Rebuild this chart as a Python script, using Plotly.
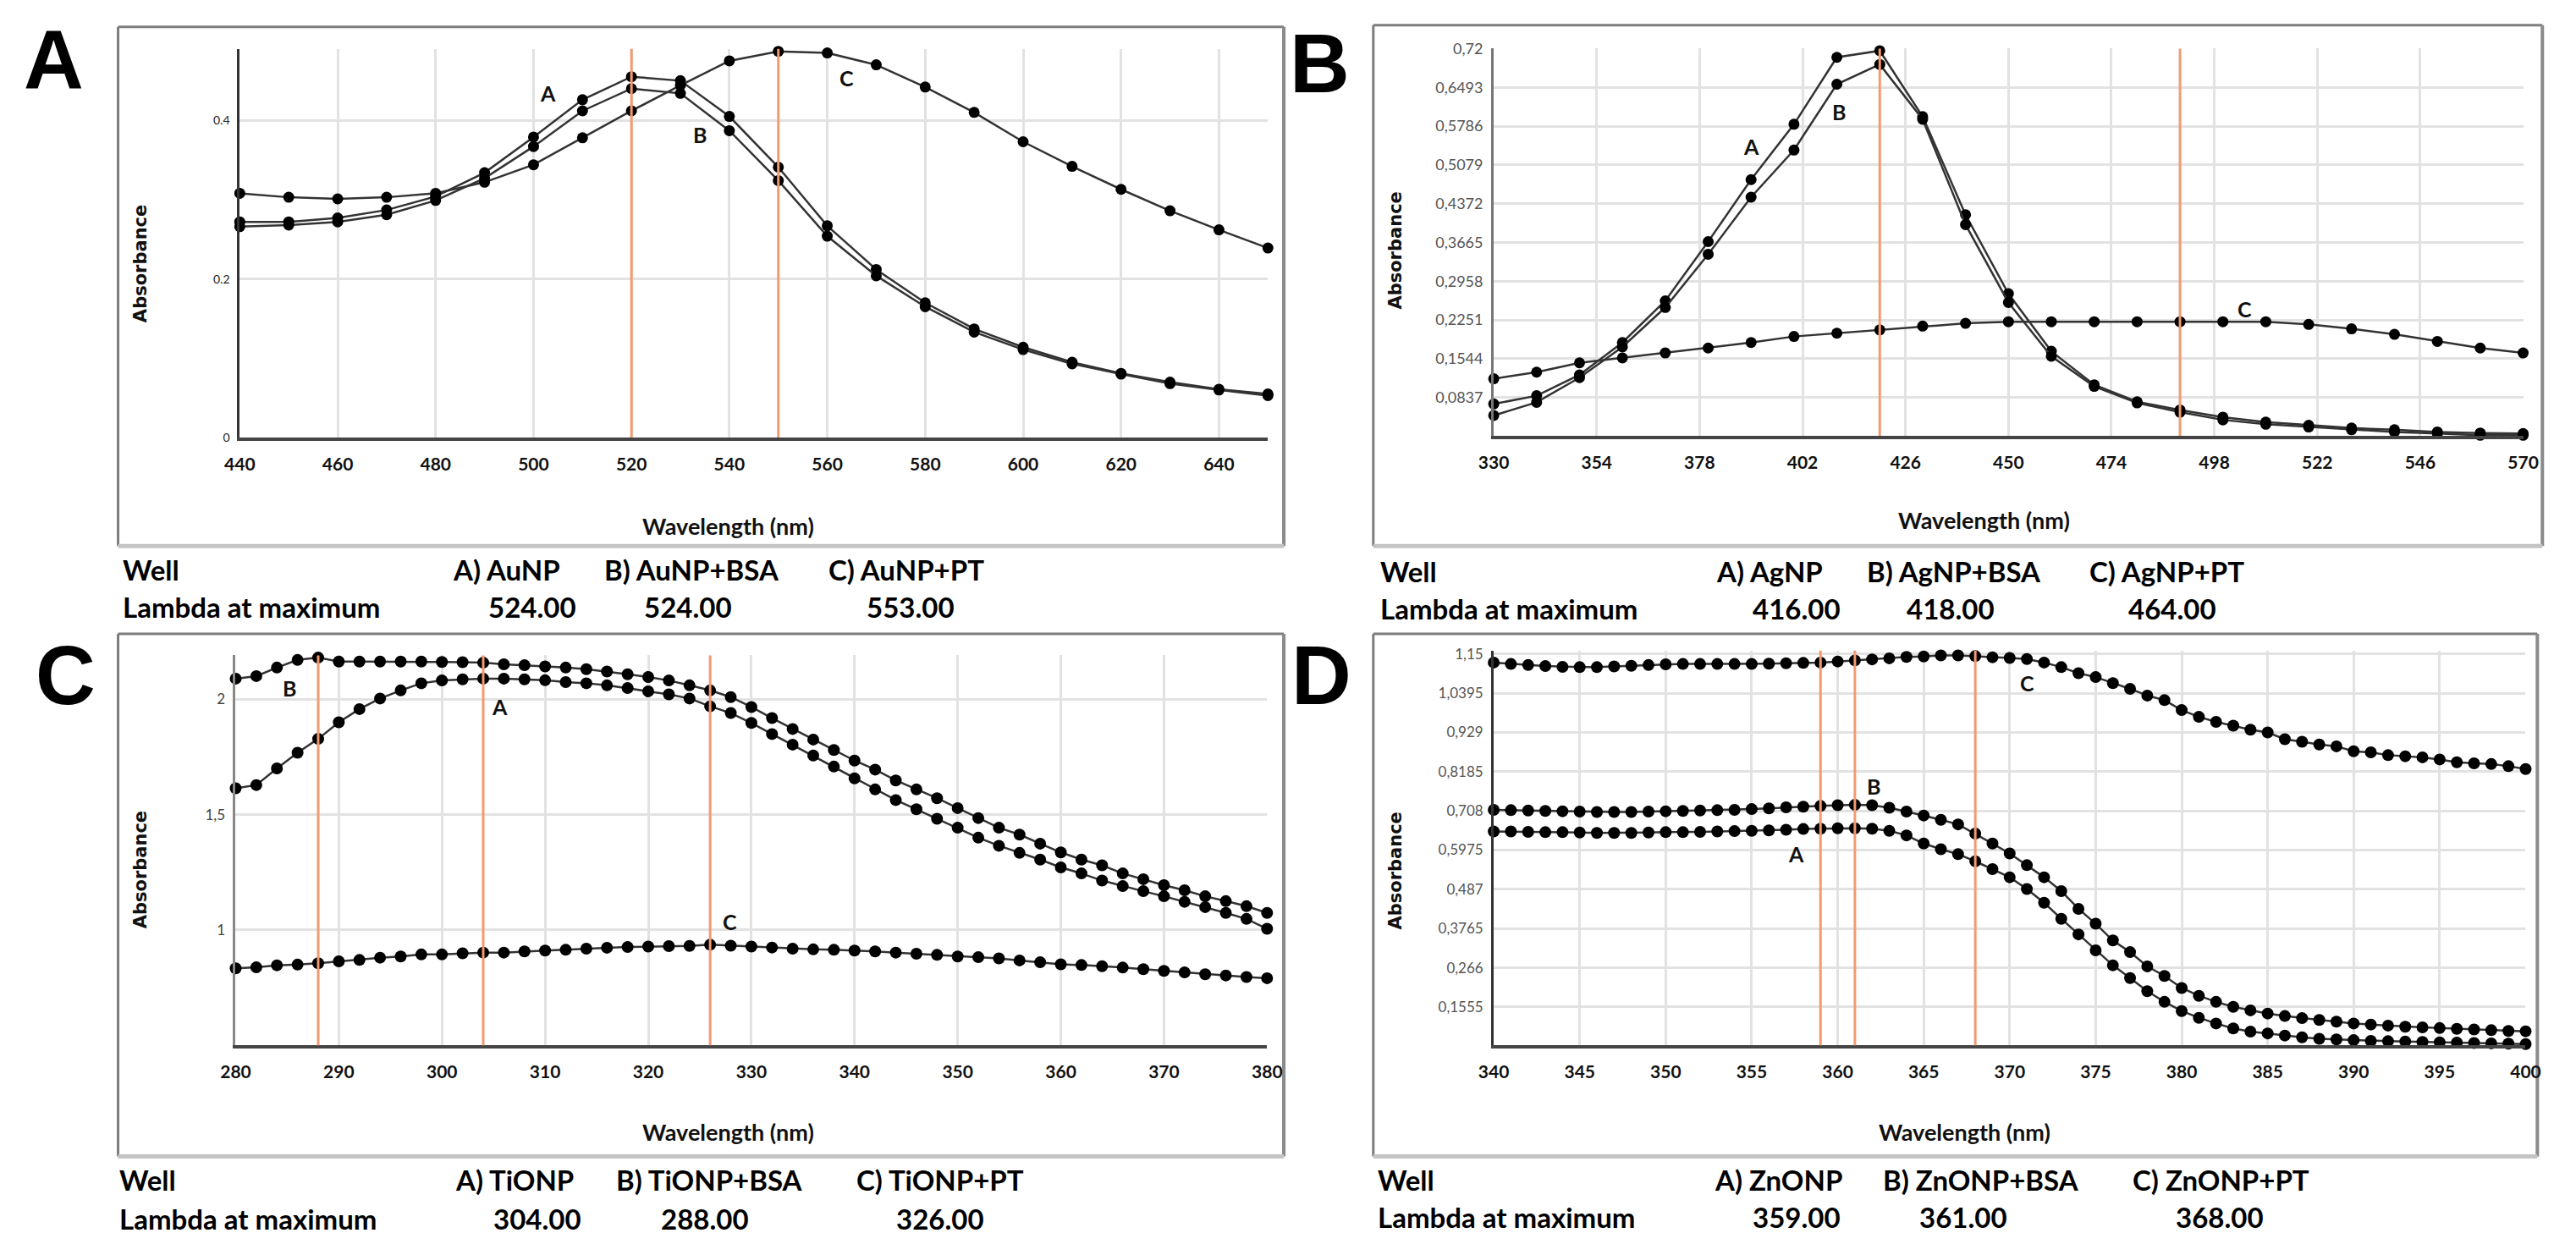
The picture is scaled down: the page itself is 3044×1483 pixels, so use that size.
import plotly.graph_objects as go

W, H = 3044, 1483

# ---------------- data ----------------
wl_a = list(range(440, 651, 10))
a_aunp = [0.272, 0.272, 0.277, 0.287, 0.304, 0.334, 0.379, 0.426, 0.455, 0.450, 0.405,
          0.341, 0.267, 0.212, 0.170, 0.137, 0.114, 0.095, 0.081, 0.070, 0.061, 0.055]
a_aunp_bsa = [0.266, 0.268, 0.272, 0.281, 0.299, 0.327, 0.367, 0.412, 0.440, 0.434, 0.387,
              0.324, 0.254, 0.204, 0.165, 0.133, 0.111, 0.093, 0.080, 0.068, 0.060, 0.053]
a_aunp_pt = [0.308, 0.303, 0.301, 0.303, 0.308, 0.322, 0.344, 0.378, 0.412, 0.444, 0.475,
             0.487, 0.485, 0.470, 0.442, 0.410, 0.373, 0.342, 0.313, 0.286, 0.262, 0.239]

wl_b = list(range(330, 571, 10))
b_agnp = [0.072, 0.087, 0.125, 0.184, 0.260, 0.368, 0.481, 0.582, 0.704, 0.716, 0.596, 0.417,
          0.273, 0.168, 0.107, 0.076, 0.061, 0.048, 0.039, 0.033, 0.028, 0.025, 0.021, 0.019, 0.018]
b_agnp_bsa = [0.051, 0.075, 0.120, 0.176, 0.248, 0.345, 0.449, 0.535, 0.655, 0.691, 0.591, 0.399,
              0.257, 0.159, 0.104, 0.074, 0.057, 0.043, 0.035, 0.030, 0.025, 0.021, 0.018, 0.015, 0.015]
b_agnp_pt = [0.118, 0.130, 0.147, 0.156, 0.165, 0.174, 0.184, 0.195, 0.201, 0.207, 0.214, 0.219,
             0.222, 0.222, 0.222, 0.222, 0.222, 0.222, 0.222, 0.217, 0.209, 0.199, 0.186, 0.174, 0.165]

wl_c = list(range(280, 381, 2))
c_tionp = [1.614, 1.628, 1.700, 1.768, 1.828, 1.900, 1.957, 2.003, 2.038, 2.069, 2.081,
           2.086, 2.089, 2.089, 2.086, 2.082, 2.074, 2.069, 2.060, 2.048, 2.034,
           2.021, 2.003, 1.969, 1.940, 1.897, 1.849, 1.803, 1.756, 1.708, 1.657,
           1.609, 1.563, 1.523, 1.482, 1.443, 1.400, 1.365, 1.334, 1.305, 1.271,
           1.245, 1.214, 1.190, 1.168, 1.146, 1.122, 1.099, 1.074, 1.048, 1.005]
c_tionp_bsa = [2.089, 2.100, 2.137, 2.170, 2.180, 2.163, 2.163, 2.163, 2.163, 2.163, 2.161,
               2.160, 2.158, 2.151, 2.147, 2.142, 2.137, 2.130, 2.120, 2.108, 2.096,
               2.081, 2.060, 2.038, 2.009, 1.966, 1.918, 1.871, 1.825, 1.780, 1.734,
               1.695, 1.648, 1.609, 1.571, 1.528, 1.485, 1.443, 1.413, 1.374, 1.336,
               1.305, 1.280, 1.245, 1.220, 1.194, 1.172, 1.146, 1.125, 1.103, 1.074]
c_tionp_pt = [0.834, 0.838, 0.847, 0.850, 0.856, 0.864, 0.870, 0.880, 0.885, 0.894, 0.894,
              0.899, 0.902, 0.902, 0.907, 0.911, 0.914, 0.919, 0.923, 0.926, 0.928,
              0.930, 0.931, 0.936, 0.932, 0.928, 0.924, 0.919, 0.916, 0.914, 0.911,
              0.907, 0.902, 0.897, 0.892, 0.885, 0.882, 0.877, 0.868, 0.860, 0.851,
              0.848, 0.843, 0.837, 0.830, 0.823, 0.816, 0.808, 0.803, 0.796, 0.791]

wl_d = list(range(340, 401, 1))
d_znonp = [0.650, 0.650, 0.649, 0.648, 0.648, 0.647, 0.646, 0.646, 0.646, 0.647,
           0.648, 0.648, 0.649, 0.650, 0.651, 0.652, 0.653, 0.655, 0.657, 0.658,
           0.659, 0.659, 0.658, 0.652, 0.639, 0.616, 0.600, 0.586, 0.566, 0.544,
           0.521, 0.488, 0.449, 0.404, 0.360, 0.315, 0.273, 0.237, 0.200, 0.170,
           0.144, 0.125, 0.109, 0.095, 0.086, 0.081, 0.075, 0.070, 0.066, 0.064,
           0.062, 0.060, 0.059, 0.058, 0.057, 0.056, 0.055, 0.054, 0.053, 0.052, 0.051]
d_znonp_bsa = [0.711, 0.710, 0.709, 0.708, 0.707, 0.706, 0.705, 0.705, 0.705, 0.706,
               0.707, 0.708, 0.709, 0.710, 0.711, 0.713, 0.715, 0.718, 0.720, 0.722,
               0.724, 0.725, 0.724, 0.717, 0.706, 0.695, 0.683, 0.670, 0.644, 0.616,
               0.588, 0.555, 0.521, 0.482, 0.432, 0.390, 0.343, 0.310, 0.270, 0.243,
               0.209, 0.187, 0.170, 0.156, 0.146, 0.137, 0.130, 0.124, 0.119, 0.114,
               0.109, 0.106, 0.103, 0.100, 0.098, 0.096, 0.094, 0.092, 0.090, 0.088, 0.087]
d_znonp_pt = [1.126, 1.122, 1.119, 1.116, 1.114, 1.113, 1.113, 1.115, 1.117, 1.119,
              1.121, 1.122, 1.122, 1.122, 1.122, 1.122, 1.123, 1.124, 1.125, 1.126,
              1.129, 1.132, 1.135, 1.138, 1.142, 1.143, 1.146, 1.146, 1.144, 1.141,
              1.139, 1.136, 1.126, 1.113, 1.096, 1.085, 1.068, 1.052, 1.033, 1.020,
              0.992, 0.973, 0.959, 0.948, 0.937, 0.929, 0.910, 0.903, 0.895, 0.890,
              0.876, 0.873, 0.865, 0.862, 0.859, 0.853, 0.845, 0.842, 0.840, 0.834, 0.826]

# marker (orange) lines
vlines_a = [520, 550]
vlines_b = [420, 490]
vlines_c = [288, 304, 326]
vlines_d = [359, 361, 368]

# tick labels
yt_a_vals = [0, 0.2, 0.4]
yt_a_text = ["0", "0.2", "0.4"]
yt_b_vals = [0.72, 0.6493, 0.5786, 0.5079, 0.4372, 0.3665, 0.2958, 0.2251, 0.1544, 0.0837]
yt_b_text = ["0,72", "0,6493", "0,5786", "0,5079", "0,4372", "0,3665", "0,2958", "0,2251", "0,1544", "0,0837"]
yt_c_vals = [1, 1.5, 2]
yt_c_text = ["1", "1,5", "2"]
yt_d_vals = [1.15, 1.0395, 0.929, 0.8185, 0.708, 0.5975, 0.487, 0.3765, 0.266, 0.1555]
yt_d_text = ["1,15", "1,0395", "0,929", "0,8185", "0,708", "0,5975", "0,487", "0,3765", "0,266", "0,1555"]

# curve labels (letter, x, y)
lab_a = [("A", 503, 0.434), ("B", 534, 0.382), ("C", 564, 0.454)]
lab_b = [("A", 390, 0.542), ("B", 410.5, 0.605), ("C", 505, 0.246)]
lab_c = [("B", 285.2, 2.048), ("A", 305.6, 1.969), ("C", 327.9, 1.036)]
lab_d = [("C", 371, 1.068), ("B", 362.1, 0.778), ("A", 357.6, 0.586)]

# tables
wells_a = ["A) AuNP", "B) AuNP+BSA", "C) AuNP+PT"]
lambda_a = ["524.00", "524.00", "553.00"]
wells_b = ["A) AgNP", "B) AgNP+BSA", "C) AgNP+PT"]
lambda_b = ["416.00", "418.00", "464.00"]
wells_c = ["A) TiONP", "B) TiONP+BSA", "C) TiONP+PT"]
lambda_c = ["304.00", "288.00", "326.00"]
wells_d = ["A) ZnONP", "B) ZnONP+BSA", "C) ZnONP+PT"]
lambda_d = ["359.00", "361.00", "368.00"]

# ---------------- layout helpers ----------------
def fx(p):
    return p / W

def fy(p):
    return 1 - p / H

ORANGE = "#F49A70"
GRID = "#e2e2e2"
LINE = "#333333"
TICKFONT = "Lato"
TEXTFONT = "Lato"

panels = [
    dict(name="A", ax="", wl=wl_a, series=[a_aunp, a_aunp_bsa, a_aunp_pt], vl=vlines_a, msize=13,
         xr=[440, 650], xpx=[268.5, 1498], yr=[0, 0.49], ypx=[46.5, 512],
         xt=list(range(440, 641, 20)), yv=yt_a_vals, yt=yt_a_text, ytsize=14, ycol="#222", ylinecol="#333",
         labs=lab_a, box=[123, 20, 1517, 642], letter=(46, 1),
         ytitle=(150, 304), xtitle=(853, 618), rows=(670, 715), left=126,
         wells=wells_a, lams=lambda_a, wc=[587, 809, 1066], lc=[618, 805, 1071]),
    dict(name="B", ax="2", wl=wl_b, series=[b_agnp, b_agnp_bsa, b_agnp_pt], vl=vlines_b, msize=13,
         xr=[330, 570], xpx=[1768, 2999], yr=[0.0137, 0.72], ypx=[46, 510],
         xt=list(range(330, 571, 24)), yv=yt_b_vals, yt=yt_b_text, ytsize=18, ycol="#555", ylinecol="#777",
         labs=lab_b, box=[1624, 18, 3022, 642], letter=(1560, 6),
         ytitle=(1651, 288), xtitle=(2354, 611), rows=(672, 717), left=1630,
         wells=wells_b, lams=lambda_b, wc=[2098, 2318, 2573], lc=[2130, 2314, 2580]),
    dict(name="C", ax="3", wl=wl_c, series=[c_tionp, c_tionp_bsa, c_tionp_pt], vl=vlines_c, msize=14,
         xr=[280, 380], xpx=[263.6, 1497], yr=[0.5, 2.19], ypx=[772.8, 1240],
         xt=list(range(280, 381, 10)), yv=yt_c_vals, yt=yt_c_text, ytsize=17, ycol="#444", ylinecol="#888",
         labs=lab_c, box=[123, 747, 1517, 1373], letter=(60, 739),
         ytitle=(150, 1030), xtitle=(853, 1344), rows=(1401, 1448), left=122,
         wells=wells_c, lams=lambda_c, wc=[597, 830, 1106], lc=[624, 825, 1106]),
    dict(name="D", ax="4", wl=wl_d, series=[d_znonp, d_znonp_bsa, d_znonp_pt], vl=vlines_d, msize=14,
         xr=[340, 400], xpx=[1768, 3002], yr=[0.0473, 1.16], ypx=[767, 1240],
         xt=list(range(340, 401, 5)), yv=yt_d_vals, yt=yt_d_text, ytsize=17, ycol="#555", ylinecol="#333",
         labs=lab_d, box=[1624, 747, 3016, 1373], letter=(1562, 739),
         ytitle=(1651, 1031), xtitle=(2331, 1344), rows=(1401, 1446), left=1627,
         wells=wells_d, lams=lambda_d, wc=[2108, 2351, 2638], lc=[2130, 2330, 2636]),
]

fig = go.Figure()
shapes = []
annotations = []
layout = {}

for p in panels:
    xa = "x" + p["ax"]
    ya = "y" + p["ax"]
    xkey = "xaxis" + p["ax"]
    ykey = "yaxis" + p["ax"]
    for s in p["series"]:
        fig.add_trace(go.Scatter(
            x=p["wl"], y=s, xaxis=xa, yaxis=ya, mode="lines+markers",
            line=dict(color=LINE, width=2.5),
            marker=dict(color="black", size=p["msize"], symbol="circle"),
            cliponaxis=False, showlegend=False, hoverinfo="skip"))
    layout[xkey] = dict(
        domain=[fx(p["xpx"][0]), fx(p["xpx"][1])], range=p["xr"], anchor=ya,
        tickvals=p["xt"], ticktext=[str(v) for v in p["xt"]],
        showgrid=True, gridcolor=GRID, gridwidth=3, zeroline=False,
        showline=True, linecolor="#444", linewidth=4, ticks="",
        ticklabelstandoff=10,
        tickfont=dict(family=TICKFONT, size=21, color="#111", weight="bold"))
    layout[ykey] = dict(
        domain=[fy(p["ypx"][1]), fy(p["ypx"][0])], range=p["yr"], anchor=xa,
        tickvals=p["yv"], ticktext=p["yt"],
        showgrid=True, gridcolor=GRID, gridwidth=3, zeroline=False,
        showline=True, linecolor=p["ylinecol"], linewidth=3, ticks="",
        ticklabelstandoff=6,
        tickfont=dict(family=TICKFONT, size=p["ytsize"], color=p["ycol"]))
    for v in p["vl"]:
        shapes.append(dict(type="line", xref=xa, yref=ya + " domain", x0=v, x1=v, y0=0, y1=1,
                           line=dict(color=ORANGE, width=3), layer="above"))
    # outer frame
    x0, y0, x1, y1 = p["box"]
    shapes.append(dict(type="line", xref="paper", yref="paper", x0=fx(x0), x1=fx(x1), y0=fy(y0), y1=fy(y0),
                       line=dict(color="#7d7d7d", width=3), layer="below"))
    shapes.append(dict(type="line", xref="paper", yref="paper", x0=fx(x0), x1=fx(x0), y0=fy(y0), y1=fy(y1),
                       line=dict(color="#7d7d7d", width=3), layer="below"))
    shapes.append(dict(type="line", xref="paper", yref="paper", x0=fx(x1), x1=fx(x1), y0=fy(y0), y1=fy(y1),
                       line=dict(color="#8a8a8a", width=4), layer="below"))
    shapes.append(dict(type="line", xref="paper", yref="paper", x0=fx(x0), x1=fx(x1), y0=fy(y1), y1=fy(y1),
                       line=dict(color="#c4c4c4", width=5), layer="below"))
    # curve letters
    for t, lx, ly in p["labs"]:
        annotations.append(dict(text=t, x=lx, y=ly, xref=xa, yref=ya, showarrow=False,
                                font=dict(family=TEXTFONT, size=25, color="#111", weight="bold")))
    # panel letter
    annotations.append(dict(text="<b>" + p["name"] + "</b>", x=fx(p["letter"][0]), y=fy(p["letter"][1]),
                            xref="paper", yref="paper", showarrow=False, xanchor="center", yanchor="top",
                            font=dict(family="Liberation Sans", size=98, color="black")))
    # axis titles
    annotations.append(dict(text="Absorbance", x=fx(p["ytitle"][0]), y=fy(p["ytitle"][1]),
                            xref="paper", yref="paper", showarrow=False, textangle=-90,
                            xanchor="center", yanchor="middle",
                            font=dict(family="DejaVu Sans", size=21, color="#111", weight="bold")))
    annotations.append(dict(text="Wavelength (nm)", x=fx(p["xtitle"][0]), y=fy(p["xtitle"][1]),
                            xref="paper", yref="paper", showarrow=False, xanchor="center", yanchor="middle",
                            font=dict(family=TEXTFONT, size=27, color="#111", weight="bold")))
    # table
    r1, r2 = p["rows"]
    annotations.append(dict(text="Well", x=fx(p["left"]), y=fy(r1), xref="paper", yref="paper",
                            showarrow=False, xanchor="left", yanchor="middle",
                            font=dict(family=TEXTFONT, size=33, color="black", weight="bold")))
    annotations.append(dict(text="Lambda at maximum", x=fx(p["left"]), y=fy(r2), xref="paper", yref="paper",
                            showarrow=False, xanchor="left", yanchor="middle",
                            font=dict(family=TEXTFONT, size=33, color="black", weight="bold")))
    for t, cx in zip(p["wells"], p["wc"]):
        annotations.append(dict(text=t, x=fx(cx), y=fy(r1), xref="paper", yref="paper",
                                showarrow=False, xanchor="center", yanchor="middle",
                                font=dict(family=TEXTFONT, size=33, color="black", weight="bold")))
    for t, cx in zip(p["lams"], p["lc"]):
        annotations.append(dict(text=t, x=fx(cx), y=fy(r2), xref="paper", yref="paper",
                                showarrow=False, xanchor="center", yanchor="middle",
                                font=dict(family=TEXTFONT, size=33, color="black", weight="bold")))

fig.update_layout(
    width=W, height=H, margin=dict(l=0, r=0, t=0, b=0),
    paper_bgcolor="white", plot_bgcolor="white",
    shapes=shapes, annotations=annotations, showlegend=False,
    **layout)

fig.write_html("out.html")
